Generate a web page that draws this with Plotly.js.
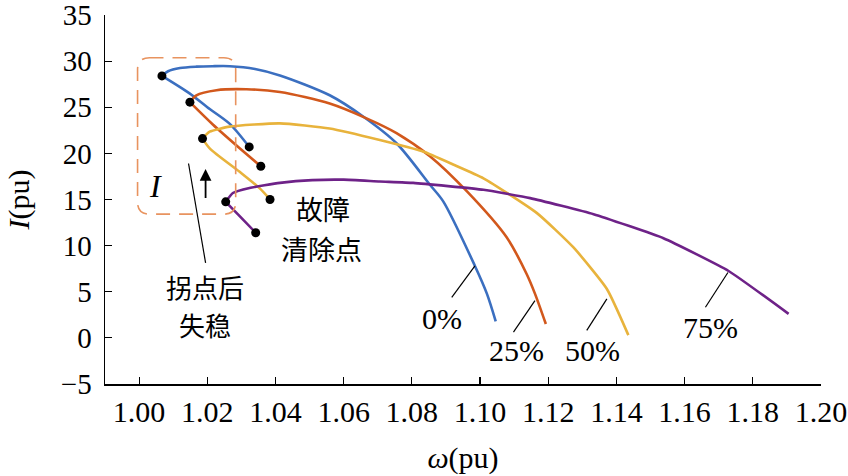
<!DOCTYPE html>
<html>
<head>
<meta charset="utf-8">
<script src="https://cdn.plot.ly/plotly-3.0.1.min.js"></script>
<style>html,body{margin:0;padding:0;background:#fff;}#chart{width:848px;height:476px;}</style>
</head>
<body>
<div id="chart"></div>
<script>
// ---- data (omega in pu, current in pu); each path starts at the fault-clearing point ----
var omega0   = [1.0323, 1.0266, 1.0200, 1.0148, 1.0067, 1.0085, 1.0120, 1.0168, 1.0215, 1.0266, 1.0340, 1.0413, 1.0559, 1.0657, 1.0755, 1.0853, 1.0892, 1.0985, 1.1020, 1.1046];
var current0 = [20.7, 23.2, 25.0, 26.5, 28.4, 28.9, 29.25, 29.4, 29.45, 29.45, 29.15, 28.45, 26.3, 24.0, 21.1, 16.6, 14.8, 7.8, 4.8, 1.8];

var omega25   = [1.0357, 1.0295, 1.0217, 1.0149, 1.0168, 1.0227, 1.0315, 1.0413, 1.0559, 1.0667, 1.0755, 1.0853, 1.0961, 1.1078, 1.1137, 1.1161, 1.1193];
var current25 = [18.6, 20.55, 23.1, 25.55, 26.3, 26.85, 26.95, 26.65, 25.4, 23.8, 22.2, 19.7, 15.9, 10.9, 6.9, 4.8, 1.5];

var omega50   = [1.0384, 1.0354, 1.0295, 1.0207, 1.0186, 1.0207, 1.0266, 1.0413, 1.0559, 1.0706, 1.0833, 1.0921, 1.1010, 1.1166, 1.1274, 1.1372, 1.1435];
var current50 = [15.0, 16.2, 18.0, 20.55, 21.6, 22.35, 22.9, 23.25, 22.7, 21.45, 20.2, 18.8, 17.3, 13.55, 9.8, 5.3, 0.3];

var omega75   = [1.0342, 1.0295, 1.0254, 1.0275, 1.0324, 1.0413, 1.0508, 1.0600, 1.0706, 1.0804, 1.1010, 1.1147, 1.1333, 1.1538, 1.1729, 1.1905];
var current75 = [11.4, 13.2, 14.75, 15.7, 16.25, 16.8, 17.1, 17.15, 16.95, 16.8, 16.05, 15.15, 13.4, 10.8, 7.25, 2.6];

var seriesNames = ['0%', '25%', '50%', '75%'];
var kneeIndex = [4, 3, 4, 2];   // index of the "拐点" in each path (index 0 = 故障清除点)

var xTickVals = [1.00, 1.02, 1.04, 1.06, 1.08, 1.10, 1.12, 1.14, 1.16, 1.18, 1.20];
var xTickText = ['1.00', '1.02', '1.04', '1.06', '1.08', '1.10', '1.12', '1.14', '1.16', '1.18', '1.20'];
var yTickVals = [-5, 0, 5, 10, 15, 20, 25, 30, 35];
var yTickText = ['\u22125', '0', '5', '10', '15', '20', '25', '30', '35'];

// ---- styles ----
var colors = ['#3b6fc0', '#d2581c', '#e8b33c', '#6e2288'];
var smooth = [0.8, 0.8, 0.5, 0.4];
var serif = 'Liberation Serif, Times New Roman, serif';
var cjk = 'Noto Sans CJK SC, sans-serif';

var xs = [omega0, omega25, omega50, omega75];
var ys = [current0, current25, current50, current75];

var traces = [];
var mx = [], my = [];
for (var i = 0; i < 4; i++) {
  var k = kneeIndex[i];
  // fault-clearing point -> knee
  traces.push({
    x: xs[i].slice(0, k + 1), y: ys[i].slice(0, k + 1), type: 'scatter', mode: 'lines',
    name: seriesNames[i], line: {color: colors[i], width: 2.6, shape: 'spline', smoothing: 0.8},
    showlegend: false, hoverinfo: 'skip'
  });
  // knee -> end
  traces.push({
    x: xs[i].slice(k), y: ys[i].slice(k), type: 'scatter', mode: 'lines',
    name: seriesNames[i], line: {color: colors[i], width: 2.6, shape: 'spline', smoothing: smooth[i]},
    showlegend: false, hoverinfo: 'skip'
  });
  mx.push(xs[i][0]); my.push(ys[i][0]);
  mx.push(xs[i][k]); my.push(ys[i][k]);
}
traces.push({
  x: mx, y: my, type: 'scatter', mode: 'markers',
  marker: {color: '#000', size: 9}, showlegend: false, hoverinfo: 'skip'
});

function txt(x, y, t, fam, size) {
  return {x: x, y: y, xref: 'x', yref: 'y', text: t, showarrow: false,
          font: {family: fam, size: size, color: '#000'}, xanchor: 'center', yanchor: 'middle'};
}

var annotations = [
  txt(1.0887, 2.07, '0%', serif, 30),
  txt(1.1108, -1.34, '25%', serif, 30),
  txt(1.1329, -1.34, '50%', serif, 30),
  txt(1.1675, 1.14, '75%', serif, 30),
  txt(1.0540, 14.05, '故障', cjk, 27),
  txt(1.0535, 9.65, '清除点', cjk, 27),
  txt(1.0192, 5.55, '拐点后', cjk, 26),
  txt(1.0192, 1.45, '失稳', cjk, 26),
  txt(1.0048, 16.43, '<i>I</i>', serif, 32),
  {x: 1.0195, y: 18.3, xref: 'x', yref: 'y', axref: 'x', ayref: 'y', ax: 1.0195, ay: 15.0,
   text: '', showarrow: true, arrowhead: 2, arrowsize: 1.3, arrowwidth: 1.8, arrowcolor: '#000'}
];

function seg(x0, y0, x1, y1) {
  return {type: 'line', xref: 'x', yref: 'y', x0: x0, y0: y0, x1: x1, y1: y1,
          line: {color: '#000', width: 1.2}};
}

// rounded dashed box around the knee points
var bx0 = 0.99955, bx1 = 1.02833, by0 = 13.41, by1 = 30.37, rx = 0.0035, ry = 1.3;
var boxPath = 'M ' + (bx0 + rx) + ',' + by1 +
  ' L ' + (bx1 - rx) + ',' + by1 +
  ' Q ' + bx1 + ',' + by1 + ' ' + bx1 + ',' + (by1 - ry) +
  ' L ' + bx1 + ',' + (by0 + ry) +
  ' Q ' + bx1 + ',' + by0 + ' ' + (bx1 - rx) + ',' + by0 +
  ' L ' + (bx0 + rx) + ',' + by0 +
  ' Q ' + bx0 + ',' + by0 + ' ' + bx0 + ',' + (by0 + ry) +
  ' L ' + bx0 + ',' + (by1 - ry) +
  ' Q ' + bx0 + ',' + by1 + ' ' + (bx0 + rx) + ',' + by1 + ' Z';

var shapes = [
  {type: 'path', xref: 'x', yref: 'y', path: boxPath,
   line: {color: '#e8935f', width: 1.6, dash: '14px,9px'}},
  seg(1.0145, 18.90, 1.0195, 8.14),
  seg(1.0985, 7.81, 1.0917, 4.40),
  seg(1.1161, 4.04, 1.1098, 0.63),
  seg(1.1372, 4.23, 1.1313, 0.81),
  seg(1.1727, 7.09, 1.1661, 3.32)
];

var layout = {
  width: 848, height: 476,
  margin: {l: 105, r: 27, t: 15, b: 92},
  paper_bgcolor: '#fff', plot_bgcolor: '#fff',
  font: {family: serif, size: 30, color: '#000'},
  showlegend: false,
  xaxis: {
    range: [0.99, 1.20], tickmode: 'array', tickvals: xTickVals, ticktext: xTickText,
    ticks: 'inside', ticklen: 7, tickwidth: 1.2, tickcolor: '#000',
    showline: true, linecolor: '#000', linewidth: 1.5, showgrid: false, zeroline: false,
    ticklabeloverflow: 'allow',
    tickfont: {family: serif, size: 30, color: '#000'},
    title: {text: '<i>ω</i>(pu)', font: {family: serif, size: 30, color: '#000'}, standoff: 20}
  },
  yaxis: {
    range: [-5, 35], tickmode: 'array', tickvals: yTickVals, ticktext: yTickText,
    ticks: 'inside', ticklen: 7, tickwidth: 1.2, tickcolor: '#000',
    showline: true, linecolor: '#000', linewidth: 1.5, showgrid: false, zeroline: false,
    ticklabelstandoff: 6, ticklabeloverflow: 'allow',
    tickfont: {family: serif, size: 29, color: '#000'},
    title: {text: '<i>I</i>(pu)', font: {family: serif, size: 30, color: '#000'}, standoff: 22}
  },
  annotations: annotations,
  shapes: shapes
};

Plotly.newPlot('chart', traces, layout, {displayModeBar: false, staticPlot: true});
</script>
</body>
</html>
